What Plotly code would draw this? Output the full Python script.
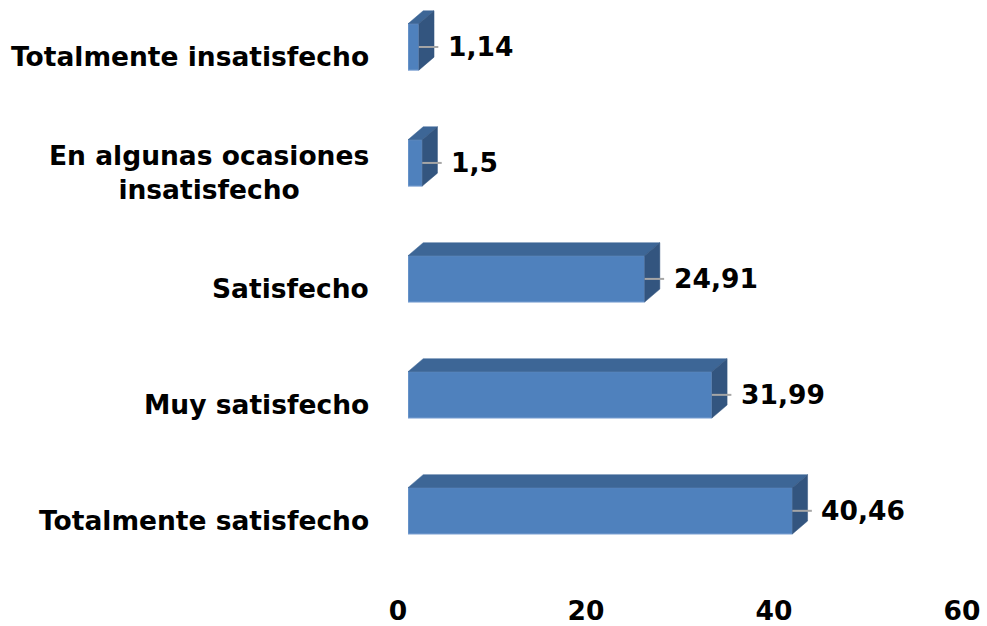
import plotly.graph_objects as go

categories = ["Totalmente satisfecho", "Muy satisfecho", "Satisfecho",
              "En algunas ocasiones<br>insatisfecho", "Totalmente insatisfecho"]
values = [40.46, 31.99, 24.91, 1.5, 1.14]
x_ticks = [0, 20, 40, 60]

W, H = 987, 626
FONT = "DejaVu Sans"
FS = 26.5
FRONT = "#4F81BD"
TOP = "#3D6696"
SIDE = "#33557F"

pos = list(range(len(categories)))
half = 0.2          # half bar thickness (category units)
dx = 1.6            # depth offset in value units
dy = 0.112          # depth offset in category units

fig = go.Figure()

# invisible trace so the tick axis (x/y subplot) is drawn
fig.add_trace(go.Scatter(x=[x_ticks[0], x_ticks[-1]], y=[pos[0], pos[0]], mode="markers",
                         marker=dict(opacity=0), xaxis="x", yaxis="y",
                         hoverinfo="skip", showlegend=False))

# front faces
fig.add_trace(go.Bar(x=values, y=pos, orientation="h", width=2 * half,
                     marker=dict(color=FRONT, line=dict(color="#7FA3D3", width=1)),
                     xaxis="x2", yaxis="y", hoverinfo="skip", showlegend=False))

# top faces
tx, ty = [], []
for v, p in zip(values, pos):
    tx += [0, v, v + dx, dx, 0, None]
    ty += [p + half, p + half, p + half + dy, p + half + dy, p + half, None]
fig.add_trace(go.Scatter(x=tx, y=ty, fill="toself", fillcolor=TOP, mode="lines",
                         line=dict(color=TOP, width=0.5), xaxis="x2", yaxis="y",
                         hoverinfo="skip", showlegend=False))
# side faces
sx, sy = [], []
for v, p in zip(values, pos):
    sx += [v, v + dx, v + dx, v, v, None]
    sy += [p - half, p - half + dy, p + half + dy, p + half, p - half, None]
fig.add_trace(go.Scatter(x=sx, y=sy, fill="toself", fillcolor=SIDE, mode="lines",
                         line=dict(color=SIDE, width=0.5), xaxis="x2", yaxis="y",
                         hoverinfo="skip", showlegend=False))
# leader lines
lx, ly = [], []
for v, p in zip(values, pos):
    lx += [v, v + dx + 0.45, None]
    ly += [p, p, None]
fig.add_trace(go.Scatter(x=lx, y=ly, mode="lines", line=dict(color="#A6A6A6", width=2),
                         xaxis="x2", yaxis="y", hoverinfo="skip", showlegend=False))

annotations = []
for v, p in zip(values, pos):
    annotations.append(dict(x=v, y=p, xref="x2", yref="y", xanchor="left", yanchor="middle",
                            xshift=27, showarrow=False,
                            text=str(v).replace(".", ","),
                            font=dict(family=FONT, size=FS, color="black", weight="bold")))
for c, p in zip(categories, pos):
    annotations.append(dict(x=371 / W, y=p, xref="paper", yref="y", xanchor="right",
                            yanchor="middle", yshift=-10, align="center", showarrow=False,
                            text=c,
                            font=dict(family=FONT, size=FS, color="black", weight="bold")))

x_axis_px = 592
fig.update_layout(
    width=W, height=H,
    margin=dict(l=0, r=0, t=0, b=0),
    paper_bgcolor="white", plot_bgcolor="white",
    showlegend=False,
    xaxis=dict(domain=[398 / W, 962 / W], range=[0, 60], tickvals=x_ticks,
               ticktext=[str(t) for t in x_ticks], showgrid=False, zeroline=False,
               showline=False, ticks="", anchor="y", automargin=False,
               tickfont=dict(family=FONT, size=FS, color="black", weight="bold")),
    xaxis2=dict(domain=[408 / W, 978 / W], range=[0, 60], visible=False, anchor="y",
                showgrid=False, zeroline=False),
    yaxis=dict(domain=[(H - x_axis_px) / H, 1], range=[-0.7, 4.405],
               showticklabels=False, showgrid=False, zeroline=False, showline=False,
               ticks="", anchor="x", automargin=False),
    annotations=annotations,
)

fig.write_html("out.html", config={"displayModeBar": False},
               post_script="document.body.style.margin='0';")
